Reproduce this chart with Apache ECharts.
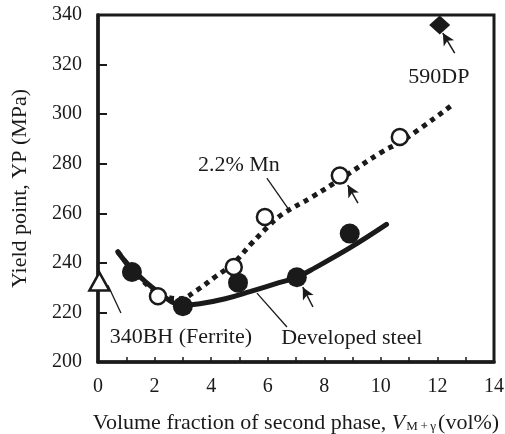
<!DOCTYPE html>
<html>
<head>
<meta charset="utf-8">
<script src="https://cdn.jsdelivr.net/npm/echarts@6/dist/echarts.min.js"></script>
<style>html,body{margin:0;padding:0;background:#fff;}#c{width:505px;height:434px;}</style>
</head>
<body>
<div id="c"></div>
<script>
// ---- data ----
var xTicks = [0, 2, 4, 6, 8, 10, 12, 14];
var yTicks = [200, 220, 240, 260, 280, 300, 320, 340];

var devX = [1.2, 3.0, 4.95, 7.03, 8.9];
var devY = [236.3, 222.5, 232, 234.2, 251.8];

var mnX = [2.12, 4.8, 5.9, 8.55, 10.67];
var mnY = [226.5, 238.3, 258.5, 275.2, 290.8];

var bhX = [0.05];
var bhY = [232.5];

var dpX = [12.08];
var dpY = [336];

var devCurveX = [0.7, 1.2, 2.1, 3.0, 3.6, 4.5, 5.4, 6.4, 7.0, 7.7, 8.9, 10.2];
var devCurveY = [244.5, 237.5, 228.5, 223, 223.5, 225.5, 228.5, 232, 234, 238.2, 246, 255.5];

var mnCurveX = [0.7, 1.2, 2.1, 2.9, 3.5, 4.1, 4.8, 5.4, 6.0, 6.5, 7.6, 8.6, 10.0, 10.8, 12.5];
var mnCurveY = [244.5, 237.5, 228, 225.5, 229, 234, 240, 247.5, 254.5, 259.5, 266.8, 274, 284.5, 289.5, 303.5];

var labelTexts = ['2.2% Mn', '590DP', '340BH (Ferrite)', 'Developed steel'];
var labelX = [4.98, 12.05, 2.93, 8.97];
var labelY = [279.4, 315, 210, 209.7];

var arrowFromX = [12.61, 9.19, 7.6];
var arrowFromY = [324.6, 264.1, 222.2];
var arrowToX = [12.19, 8.83, 7.24];
var arrowToY = [332.7, 271.4, 230.2];

var leaderFromX = [5.97, 0.35, 5.62];
var leaderFromY = [274.2, 231, 227.8];
var leaderToX = [6.71, 0.81, 6.68];
var leaderToY = [262.1, 219.8, 214.1];

// ---- build ----
function zip(a, b) { return a.map(function (v, i) { return [v, b[i]]; }); }
var FONT = 'Liberation Serif';
var INK = '#1a1a1a';

var arrows = arrowFromX.map(function (v, i) {
  return [{ coord: [v, arrowFromY[i]] }, { coord: [arrowToX[i], arrowToY[i]] }];
});
var leaders = leaderFromX.map(function (v, i) {
  return [{ coord: [v, leaderFromY[i]] }, { coord: [leaderToX[i], leaderToY[i]] }];
});
var labels = labelX.map(function (v, i) { return { value: [v, labelY[i]], name: labelTexts[i] }; });

var chart = echarts.init(document.getElementById('c'), null, { renderer: 'canvas' });
chart.setOption({
  animation: false,
  backgroundColor: '#fff',
  grid: {
    left: 98, right: 11, top: 15, bottom: 72, show: true, borderColor: INK, borderWidth: 3,
    backgroundColor: 'transparent', containLabel: false, outerBoundsMode: 'none'
  },
  xAxis: {
    type: 'value', min: 0, max: 14, interval: 1,
    axisLine: { show: true, lineStyle: { color: INK, width: 3.5 } },
    axisTick: { show: true, inside: true, length: 5, lineStyle: { color: INK, width: 1.5 } },
    axisLabel: {
      margin: 15, color: INK, fontFamily: FONT, fontSize: 20,
      formatter: function (v) { return xTicks.indexOf(v) >= 0 ? String(v) : ''; }
    },
    splitLine: { show: false },
    name: '{n|Volume fraction of second phase, }{v|V}{s|M\u2009+\u2009\u03b3}{n|(vol%)}',
    nameLocation: 'middle', nameGap: 48,
    nameTextStyle: {
      rich: {
        n: { fontFamily: FONT, fontSize: 22, color: INK, lineHeight: 26, verticalAlign: 'middle' },
        v: { fontFamily: FONT, fontSize: 22, fontStyle: 'italic', color: INK, lineHeight: 26, verticalAlign: 'middle', padding: [0, 1, 0, 0] },
        s: { fontFamily: FONT, fontSize: 13, color: INK, lineHeight: 13, verticalAlign: 'middle', padding: [8, 2, 0, 0] }
      }
    }
  },
  yAxis: {
    type: 'value', min: 200, max: 340, interval: 20,
    axisLine: { show: true, lineStyle: { color: INK, width: 3.5 } },
    axisTick: { show: true, inside: true, length: 9, lineStyle: { color: INK, width: 2 } },
    axisLabel: {
      margin: 16, color: INK, fontFamily: FONT, fontSize: 20,
      formatter: function (v) { return yTicks.indexOf(v) >= 0 ? String(v) : ''; }
    },
    splitLine: { show: false },
    name: 'Yield point, YP (MPa)', nameLocation: 'middle', nameGap: 67,
    nameTextStyle: { fontFamily: FONT, fontSize: 22, color: INK }
  },
  series: [
    {
      type: 'line', data: zip(devCurveX, devCurveY), smooth: 0.4, symbol: 'none', z: 2,
      lineStyle: { color: INK, width: 5, cap: 'round' }
    },
    {
      type: 'line', data: zip(mnCurveX, mnCurveY), smooth: 0.4, symbol: 'none', z: 3,
      lineStyle: { color: INK, width: 5, type: [5, 5], cap: 'butt' }
    },
    {
      type: 'scatter', data: zip(devX, devY), symbol: 'circle', symbolSize: 20, z: 5,
      itemStyle: { color: INK, borderWidth: 0, opacity: 1 }
    },
    {
      type: 'scatter', data: zip(mnX, mnY), symbol: 'circle', symbolSize: 16, z: 6,
      itemStyle: { color: '#fff', borderColor: INK, borderWidth: 2.5, opacity: 1 }
    },
    {
      type: 'scatter', data: zip(bhX, bhY), symbol: 'triangle', symbolSize: [20, 18], z: 6,
      itemStyle: { color: '#fff', borderColor: INK, borderWidth: 2.5, opacity: 1 }
    },
    {
      type: 'scatter', data: zip(dpX, dpY), symbol: 'diamond', symbolSize: [21, 19], z: 6,
      itemStyle: { color: INK, borderWidth: 0, opacity: 1 }
    },
    {
      type: 'scatter', data: labels, symbolSize: 0, z: 7, silent: true,
      itemStyle: { opacity: 1 },
      label: {
        show: true, position: 'inside', color: INK, fontFamily: FONT, fontSize: 22,
        formatter: function (p) { return p.name; }
      },
      markLine: {
        silent: true, animation: false, symbol: ['none', 'none'],
        label: { show: false },
        lineStyle: { color: INK, width: 1.3, type: 'solid', opacity: 1 },
        data: leaders
      }
    },
    {
      type: 'scatter', data: [], z: 7, silent: true,
      markLine: {
        silent: true, animation: false, symbol: ['none', 'arrow'], symbolSize: [9, 12],
        label: { show: false },
        lineStyle: { color: INK, width: 1.5, type: 'solid', opacity: 1 },
        itemStyle: { color: INK },
        data: arrows
      }
    }
  ]
});
</script>
</body>
</html>
